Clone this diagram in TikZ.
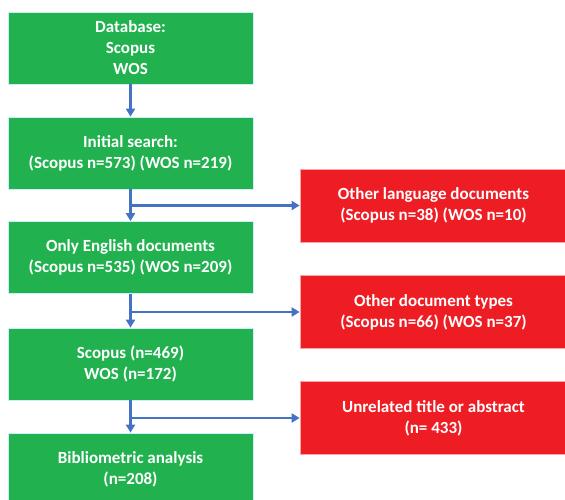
\documentclass[tikz,border=0pt]{standalone}
\usepackage{fontspec}
\setmainfont{Carlito}
\usetikzlibrary{arrows.meta}
\definecolor{boxgreen}{HTML}{21B24F}
\definecolor{boxred}{HTML}{EE1D24}
\definecolor{flowblue}{HTML}{4472C4}
\begin{document}
\begin{tikzpicture}[x=1pt, y=1pt,
        step box/.style={shape=rectangle, fill=boxgreen, draw=cyan!20!white, line width=0.7pt,
            minimum width=245pt, minimum height=72pt, align=center, text=white,
            font=\fontsize{17}{21}\selectfont\bfseries, inner sep=0pt},
        out box/.style={step box, fill=boxred, draw=boxred!40!white, minimum width=267pt, minimum height=73pt},
        flow/.style={draw=flowblue, line width=2.2pt, -{Triangle[width=9pt,length=8pt]}}]
        \useasboundingbox (0,0) rectangle (565,500);

        \node[step box] (B1) at (130.5,452) {Database:\\Scopus\\WOS};
        \node[step box] (B2) at (130.5,347) {Initial search:\\(Scopus n=573) (WOS n=219)};
        \node[step box] (B3) at (130.5,242.5) {Only English documents\\(Scopus n=535) (WOS n=209)};
        \node[step box] (B4) at (130.5,136) {Scopus (n=469)\\WOS (n=172)};
        \node[step box] (B5) at (130.5,31) {Bibliometric analysis\\(n=208)};

        \node[out box] (R1) at (433.5,294.5) {Other language documents\\(Scopus n=38) (WOS n=10)};
        \node[out box] (R2) at (433.5,188) {Other document types\\(Scopus n=66) (WOS n=37)};
        \node[out box] (R3) at (433.5,82) {Unrelated title or abstract\\(n= 433)};

        % main flow
        \draw [flow] (B1) -- (B2);
        \draw [flow] (B2) -- (B3);
        \draw [flow] (B3) -- (B4);
        \draw [flow] (B4) -- (B5);

        % excluded records
        \draw [flow] (B2.south |- R1.west) -- (R1.west);
        \draw [flow] (B3.south |- R2.west) -- (R2.west);
        \draw [flow] (B4.south |- R3.west) -- (R3.west);
    \end{tikzpicture}
\end{document}
